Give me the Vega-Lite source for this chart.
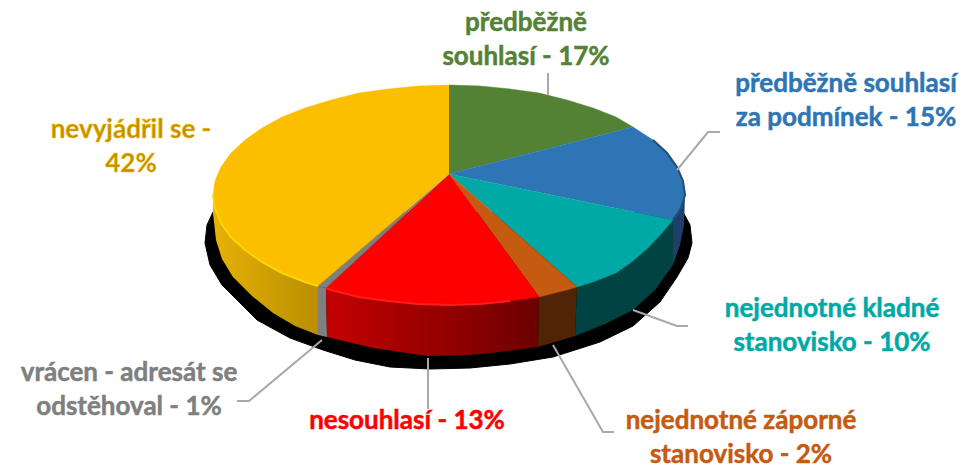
{
"$schema":"https://vega.github.io/schema/vega-lite/v6.json",
"width":963,"height":468,
"autosize":"none",
"padding":0,
"background":"white",
"config":{"view":{"stroke":null}},
"datasets":{
"shadow":[
{"i":1,"x":213,"y":212},{"i":2,"x":207,"y":225},{"i":3,"x":205,"y":243},{"i":4,"x":210,"y":265},{"i":5,"x":222,"y":285},{"i":6,"x":257,"y":320},{"i":7,"x":290,"y":338},{"i":8,"x":323,"y":350},{"i":9,"x":355,"y":360},{"i":10,"x":390,"y":367},{"i":11,"x":430,"y":369},{"i":12,"x":470,"y":368},{"i":13,"x":510,"y":364},{"i":14,"x":553,"y":357},{"i":15,"x":600,"y":342},{"i":16,"x":633,"y":326},{"i":17,"x":660,"y":302},{"i":18,"x":677,"y":277},{"i":19,"x":688,"y":258},{"i":20,"x":692,"y":243},{"i":21,"x":690,"y":225},{"i":22,"x":683,"y":212}],
"walls":[
{"s":"y","i":1,"x":213,"y":195},{"s":"y","i":2,"x":215,"y":209},{"s":"y","i":3,"x":221,"y":223},{"s":"y","i":4,"x":231,"y":237},{"s":"y","i":5,"x":245,"y":250},{"s":"y","i":6,"x":262,"y":262},{"s":"y","i":7,"x":282,"y":273},{"s":"y","i":8,"x":305,"y":282},{"s":"y","i":9,"x":318,"y":286},{"s":"y","i":10,"x":318,"y":335},{"s":"y","i":11,"x":295,"y":326},{"s":"y","i":12,"x":273,"y":313},{"s":"y","i":13,"x":252,"y":296},{"s":"y","i":14,"x":233,"y":277},{"s":"y","i":15,"x":222,"y":259},{"s":"y","i":16,"x":216,"y":240},{"s":"y","i":17,"x":213,"y":213},
{"s":"g","i":1,"x":318,"y":286},{"s":"g","i":2,"x":326,"y":288},{"s":"g","i":3,"x":327,"y":337},{"s":"g","i":4,"x":318,"y":335},
{"s":"r","i":1,"x":326,"y":288},{"s":"r","i":2,"x":331,"y":290},{"s":"r","i":3,"x":359,"y":297},{"s":"r","i":4,"x":388,"y":301},{"s":"r","i":5,"x":418,"y":304},{"s":"r","i":6,"x":449,"y":305},{"s":"r","i":7,"x":480,"y":304},{"s":"r","i":8,"x":510,"y":301},{"s":"r","i":9,"x":539,"y":297},{"s":"r","i":10,"x":538,"y":347},{"s":"r","i":11,"x":500,"y":352},{"s":"r","i":12,"x":470,"y":355},{"s":"r","i":13,"x":428,"y":356},{"s":"r","i":14,"x":373,"y":348},{"s":"r","i":15,"x":327,"y":337},
{"s":"o","i":1,"x":539,"y":297},{"s":"o","i":2,"x":567,"y":290},{"s":"o","i":3,"x":577,"y":287},{"s":"o","i":4,"x":575,"y":336},{"s":"o","i":5,"x":538,"y":347},
{"s":"t","i":1,"x":577,"y":287},{"s":"t","i":2,"x":593,"y":282},{"s":"t","i":3,"x":616,"y":273},{"s":"t","i":4,"x":633,"y":261},{"s":"t","i":5,"x":648,"y":248},{"s":"t","i":6,"x":662,"y":233},{"s":"t","i":7,"x":673,"y":220},{"s":"t","i":8,"x":673,"y":265},{"s":"t","i":9,"x":655,"y":290},{"s":"t","i":10,"x":633,"y":310},{"s":"t","i":11,"x":605,"y":324},{"s":"t","i":12,"x":575,"y":336},
{"s":"b","i":1,"x":673,"y":220},{"s":"b","i":2,"x":681,"y":208},{"s":"b","i":3,"x":685,"y":195},{"s":"b","i":4,"x":684,"y":225},{"s":"b","i":5,"x":680,"y":245},{"s":"b","i":6,"x":673,"y":265}],
"top":[
{"s":"předběžně souhlasí","i":0,"x":449,"y":174},{"s":"předběžně souhlasí","i":1,"x":449,"y":85},{"s":"předběžně souhlasí","i":2,"x":480,"y":86},{"s":"předběžně souhlasí","i":3,"x":510,"y":89},{"s":"předběžně souhlasí","i":4,"x":539,"y":93},{"s":"předběžně souhlasí","i":5,"x":567,"y":100},{"s":"předběžně souhlasí","i":6,"x":593,"y":108},{"s":"předběžně souhlasí","i":7,"x":616,"y":117},{"s":"předběžně souhlasí","i":8,"x":633,"y":127},
{"s":"předběžně souhlasí za podmínek","i":0,"x":449,"y":174},{"s":"předběžně souhlasí za podmínek","i":1,"x":633,"y":127},{"s":"předběžně souhlasí za podmínek","i":2,"x":653,"y":140},{"s":"předběžně souhlasí za podmínek","i":3,"x":667,"y":153},{"s":"předběžně souhlasí za podmínek","i":4,"x":677,"y":167},{"s":"předběžně souhlasí za podmínek","i":5,"x":683,"y":181},{"s":"předběžně souhlasí za podmínek","i":6,"x":685,"y":195},{"s":"předběžně souhlasí za podmínek","i":7,"x":681,"y":208},{"s":"předběžně souhlasí za podmínek","i":8,"x":673,"y":220},
{"s":"nejednotné kladné stanovisko","i":0,"x":449,"y":174},{"s":"nejednotné kladné stanovisko","i":1,"x":673,"y":220},{"s":"nejednotné kladné stanovisko","i":2,"x":662,"y":233},{"s":"nejednotné kladné stanovisko","i":3,"x":648,"y":248},{"s":"nejednotné kladné stanovisko","i":4,"x":633,"y":261},{"s":"nejednotné kladné stanovisko","i":5,"x":616,"y":273},{"s":"nejednotné kladné stanovisko","i":6,"x":593,"y":282},{"s":"nejednotné kladné stanovisko","i":7,"x":577,"y":287},
{"s":"nejednotné záporné stanovisko","i":0,"x":449,"y":174},{"s":"nejednotné záporné stanovisko","i":1,"x":577,"y":287},{"s":"nejednotné záporné stanovisko","i":2,"x":567,"y":290},{"s":"nejednotné záporné stanovisko","i":3,"x":539,"y":297},
{"s":"nesouhlasí","i":0,"x":449,"y":174},{"s":"nesouhlasí","i":1,"x":539,"y":297},{"s":"nesouhlasí","i":2,"x":510,"y":301},{"s":"nesouhlasí","i":3,"x":480,"y":304},{"s":"nesouhlasí","i":4,"x":449,"y":305},{"s":"nesouhlasí","i":5,"x":418,"y":304},{"s":"nesouhlasí","i":6,"x":388,"y":301},{"s":"nesouhlasí","i":7,"x":359,"y":297},{"s":"nesouhlasí","i":8,"x":331,"y":290},{"s":"nesouhlasí","i":9,"x":326,"y":288},
{"s":"vrácen - adresát se odstěhoval","i":0,"x":449,"y":174},{"s":"vrácen - adresát se odstěhoval","i":1,"x":326,"y":288},{"s":"vrácen - adresát se odstěhoval","i":2,"x":318,"y":286},
{"s":"nevyjádřil se","i":0,"x":449,"y":174},{"s":"nevyjádřil se","i":1,"x":318,"y":286},{"s":"nevyjádřil se","i":2,"x":305,"y":282},{"s":"nevyjádřil se","i":3,"x":282,"y":273},{"s":"nevyjádřil se","i":4,"x":262,"y":262},{"s":"nevyjádřil se","i":5,"x":245,"y":250},{"s":"nevyjádřil se","i":6,"x":231,"y":237},{"s":"nevyjádřil se","i":7,"x":221,"y":223},{"s":"nevyjádřil se","i":8,"x":215,"y":209},{"s":"nevyjádřil se","i":9,"x":213,"y":195},{"s":"nevyjádřil se","i":10,"x":215,"y":181},{"s":"nevyjádřil se","i":11,"x":221,"y":167},{"s":"nevyjádřil se","i":12,"x":231,"y":153},{"s":"nevyjádřil se","i":13,"x":245,"y":140},{"s":"nevyjádřil se","i":14,"x":262,"y":128},{"s":"nevyjádřil se","i":15,"x":282,"y":117},{"s":"nevyjádřil se","i":16,"x":305,"y":108},{"s":"nevyjádřil se","i":17,"x":331,"y":100},{"s":"nevyjádřil se","i":18,"x":359,"y":93},{"s":"nevyjádřil se","i":19,"x":388,"y":89},{"s":"nevyjádřil se","i":20,"x":418,"y":86},{"s":"nevyjádřil se","i":21,"x":449,"y":85}],
"rims":[
{"s":"y","i":1,"x":213,"y":195},{"s":"y","i":2,"x":215,"y":209},{"s":"y","i":3,"x":221,"y":223},{"s":"y","i":4,"x":231,"y":237},{"s":"y","i":5,"x":245,"y":250},{"s":"y","i":6,"x":262,"y":262},{"s":"y","i":7,"x":282,"y":273},{"s":"y","i":8,"x":305,"y":282},{"s":"y","i":9,"x":318,"y":286},
{"s":"r","i":1,"x":326,"y":288},{"s":"r","i":2,"x":331,"y":290},{"s":"r","i":3,"x":359,"y":297},{"s":"r","i":4,"x":388,"y":301},{"s":"r","i":5,"x":418,"y":304},{"s":"r","i":6,"x":449,"y":305},{"s":"r","i":7,"x":480,"y":304},{"s":"r","i":8,"x":510,"y":301},
{"s":"b","i":1,"x":653,"y":140},{"s":"b","i":2,"x":667,"y":153},{"s":"b","i":3,"x":677,"y":167},{"s":"b","i":4,"x":683,"y":181},{"s":"b","i":5,"x":685,"y":195},{"s":"b","i":6,"x":681,"y":208},{"s":"b","i":7,"x":673,"y":220}],
"leaders":[
{"s":"předběžně souhlasí","i":1,"x":548,"y":73},{"s":"předběžně souhlasí","i":2,"x":548,"y":95},
{"s":"předběžně souhlasí za podmínek","i":1,"x":720,"y":132},{"s":"předběžně souhlasí za podmínek","i":2,"x":708,"y":132},{"s":"předběžně souhlasí za podmínek","i":3,"x":677,"y":170},
{"s":"nejednotné kladné stanovisko","i":1,"x":688,"y":326},{"s":"nejednotné kladné stanovisko","i":2,"x":677,"y":326},{"s":"nejednotné kladné stanovisko","i":3,"x":633,"y":310},
{"s":"nejednotné záporné stanovisko","i":1,"x":614,"y":432},{"s":"nejednotné záporné stanovisko","i":2,"x":603,"y":432},{"s":"nejednotné záporné stanovisko","i":3,"x":553,"y":345},
{"s":"nesouhlasí","i":1,"x":428,"y":409},{"s":"nesouhlasí","i":2,"x":428,"y":358},
{"s":"vrácen - adresát se odstěhoval","i":1,"x":237,"y":401},{"s":"vrácen - adresát se odstěhoval","i":2,"x":249,"y":401},{"s":"vrácen - adresát se odstěhoval","i":3,"x":322,"y":340}],
"labels":[
{"s":"předběžně souhlasí","share":17,"label":"předběžně\nsouhlasí - 17%","x":526,"y":23},
{"s":"předběžně souhlasí za podmínek","share":15,"label":"předběžně souhlasí\nza podmínek - 15%","x":846,"y":84},
{"s":"nejednotné kladné stanovisko","share":10,"label":"nejednotné kladné\nstanovisko - 10%","x":832,"y":309},
{"s":"nejednotné záporné stanovisko","share":2,"label":"nejednotné záporné\nstanovisko - 2%","x":741,"y":421},
{"s":"nesouhlasí","share":13,"label":"nesouhlasí - 13%","x":407,"y":421},
{"s":"vrácen - adresát se odstěhoval","share":1,"label":"vrácen - adresát se\nodstěhoval - 1%","x":129,"y":373},
{"s":"nevyjádřil se","share":42,"label":"nevyjádřil se -\n42%","x":131,"y":130}]
},
"encoding":{
"x":{"field":"x","type":"quantitative","scale":{"domain":[0,963],"nice":false,"zero":false},"axis":null},
"y":{"field":"y","type":"quantitative","scale":{"domain":[468,0],"nice":false,"zero":false},"axis":null},
"order":{"field":"i","type":"quantitative"}
},
"layer":[
{"data":{"name":"shadow"},"mark":{"type":"line","fill":"#000000","stroke":"#000000","strokeWidth":1}},
{"data":{"name":"walls"},"transform":[{"filter":"datum.s=='y'"}],"mark":{"type":"line","stroke":null,"fill":{"gradient":"linear","x1":0,"y1":0,"x2":1,"y2":0,"stops":[{"offset":0,"color":"#e6b208"},{"offset":1,"color":"#b98e00"}]}}},
{"data":{"name":"walls"},"transform":[{"filter":"datum.s=='g'"}],"mark":{"type":"line","stroke":null,"fill":"#7f7f7f"}},
{"data":{"name":"walls"},"transform":[{"filter":"datum.s=='r'"}],"mark":{"type":"line","stroke":null,"fill":{"gradient":"linear","x1":0,"y1":0,"x2":1,"y2":0,"stops":[{"offset":0,"color":"#c40000"},{"offset":0.55,"color":"#950000"},{"offset":1,"color":"#6c0000"}]}}},
{"data":{"name":"walls"},"transform":[{"filter":"datum.s=='o'"}],"mark":{"type":"line","stroke":null,"fill":"#502405"}},
{"data":{"name":"walls"},"transform":[{"filter":"datum.s=='t'"}],"mark":{"type":"line","stroke":null,"fill":"#004342"}},
{"data":{"name":"walls"},"transform":[{"filter":"datum.s=='b'"}],"mark":{"type":"line","stroke":null,"fill":"#1f3f6b"}},
{"data":{"name":"top"},"mark":{"type":"line","strokeWidth":0.5},"encoding":{
"fill":{"field":"s","type":"nominal","legend":null,"scale":{"domain":["předběžně souhlasí","předběžně souhlasí za podmínek","nejednotné kladné stanovisko","nejednotné záporné stanovisko","nesouhlasí","vrácen - adresát se odstěhoval","nevyjádřil se"],"range":["#548235","#2e75b6","#00a9a5","#c55a11","#ff0000","#7f7f7f","#fcbf00"]}},
"stroke":{"field":"s","type":"nominal","legend":null,"scale":{"domain":["předběžně souhlasí","předběžně souhlasí za podmínek","nejednotné kladné stanovisko","nejednotné záporné stanovisko","nesouhlasí","vrácen - adresát se odstěhoval","nevyjádřil se"],"range":["#548235","#2e75b6","#00a9a5","#c55a11","#ff0000","#7f7f7f","#fcbf00"]}}}},
{"data":{"name":"rims"},"transform":[{"filter":"datum.s=='y'"}],"mark":{"type":"line","stroke":"#ffd400","strokeWidth":2}},
{"data":{"name":"rims"},"transform":[{"filter":"datum.s=='r'"}],"mark":{"type":"line","stroke":"#ff1c1c","strokeWidth":2}},
{"data":{"name":"rims"},"transform":[{"filter":"datum.s=='b'"}],"mark":{"type":"line","stroke":"#1f4e79","strokeWidth":2}},
{"data":{"name":"leaders"},"mark":{"type":"line","stroke":"#a9a9a9","strokeWidth":2},"encoding":{"detail":{"field":"s"}}},
{"data":{"name":"labels"},"mark":{"type":"text","font":"Lato","fontWeight":"bold","fontSize":26,"lineBreak":"\n","lineHeight":34,"align":"center","baseline":"middle","strokeWidth":0.5},"encoding":{
"order":{"value":null},
"text":{"field":"label"},
"stroke":{"field":"s","type":"nominal","legend":null,"scale":{"domain":["předběžně souhlasí","předběžně souhlasí za podmínek","nejednotné kladné stanovisko","nejednotné záporné stanovisko","nesouhlasí","vrácen - adresát se odstěhoval","nevyjádřil se"],"range":["#548235","#2e75b6","#00a9a5","#c55a11","#ff0000","#7f7f7f","#bf9000"]}},
"color":{"field":"s","type":"nominal","legend":null,"scale":{"domain":["předběžně souhlasí","předběžně souhlasí za podmínek","nejednotné kladné stanovisko","nejednotné záporné stanovisko","nesouhlasí","vrácen - adresát se odstěhoval","nevyjádřil se"],"range":["#548235","#2e75b6","#00a9a5","#c55a11","#ff0000","#7f7f7f","#bf9000"]}}}}
]
}
